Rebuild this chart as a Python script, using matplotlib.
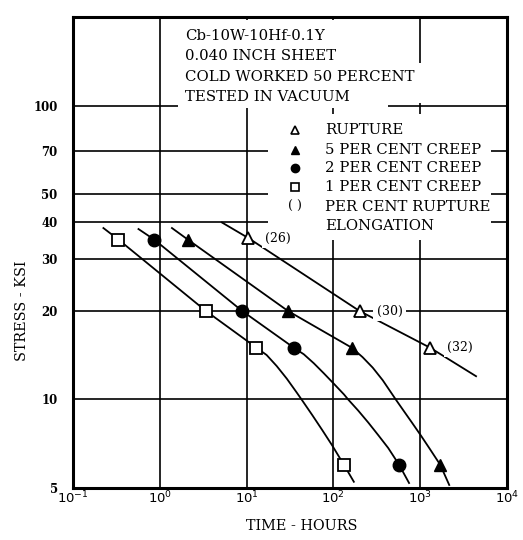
import numpy as np
import matplotlib
matplotlib.use("Agg")
import matplotlib.pyplot as plt
from matplotlib.patches import Rectangle

plt.rcParams['font.family'] = ['DejaVu Serif']

# rupture (open triangles) with per cent elongation labels
rup_t = [10.5, 200, 1300]
rup_s = [35.4, 20, 15]
rup_elong = ["(26)", "(30)", "(32)"]
rup_curve_t = [5.2, 10.5, 200, 1300, 4400]
rup_curve_s = [40, 35.4, 20, 15, 12]

# 5 per cent creep (filled triangles)
c5_t = [2.1, 30, 163, 1700]
c5_s = [35, 20, 15, 6]
c5_curve_t = [1.38, 2.1, 30, 163, 217, 284, 370, 523, 647, 800, 1016, 1291, 1700, 2160]
c5_curve_s = [38.3, 35, 20, 15, 13.93, 12.83, 11.63, 10, 9.14, 8.36, 7.55, 6.79, 6, 5.12]

# 2 per cent creep (filled circles)
c2_t = [0.86, 8.9, 35, 571]
c2_s = [35, 20, 15, 6]
c2_curve_t = [0.568, 0.86, 8.9, 35, 45.6, 59.5, 77.7, 101.3, 132.2, 148, 193, 252, 328, 428, 571, 744]
c2_curve_s = [38.0, 35, 20, 15, 14.25, 13.28, 12.27, 11.31, 10.41, 10, 9.17, 8.35, 7.57, 6.84, 6, 5.2]

# 1 per cent creep (open squares)
c1_t = [0.333, 3.4, 13.0, 132]
c1_s = [35, 20, 15, 6]
c1_curve_t = [0.224, 0.333, 3.4, 13.0, 17.0, 22.2, 29.0, 37.8, 43.7, 57.1, 74.4, 97.1, 132, 172]
c1_curve_s = [38.3, 35, 20, 15, 14.17, 13.0, 11.78, 10.56, 9.93, 8.85, 7.87, 6.97, 6, 5.25]

yticks = [5, 10, 20, 30, 40, 50, 70, 100]
xticks = [1e-1, 1e0, 1e1, 1e2, 1e3, 1e4]
xticklabels = [r"$10^{-1}$", r"$10^{0}$", r"$10^{1}$", r"$10^{2}$", r"$10^{3}$", r"$10^{4}$"]

title_lines = ["Cb-10W-10Hf-0.1Y", "0.040 INCH SHEET",
               "COLD WORKED 50 PERCENT", "TESTED IN VACUUM"]
legend_lines = ["RUPTURE", "5 PER CENT CREEP", "2 PER CENT CREEP",
                "1 PER CENT CREEP", "PER CENT RUPTURE", "ELONGATION"]

W, H = 523, 540
fig = plt.figure(figsize=(W/100, H/100), dpi=100)
ax = fig.add_axes([73/W, 1-488/H, 434/W, 471/H])
ax.set_xscale("log")
ax.set_yscale("log")
ax.set_xlim(0.1, 1e4)
ax.set_ylim(5, 200)

ax.set_xticks(xticks)
ax.set_xticklabels(xticklabels)
ax.set_yticks(yticks)
ax.set_yticklabels([str(v) for v in yticks])
ax.minorticks_off()
ax.tick_params(axis="both", length=0)
ax.tick_params(axis="y", pad=11, labelsize=8.5)
ax.tick_params(axis="x", pad=1, labelsize=9.5)
for lab in ax.get_yticklabels():
    lab.set_fontweight("bold")

ax.set_axisbelow(True)
ax.grid(True, color="black", linewidth=1.2)
for sp in ax.spines.values():
    sp.set_linewidth(2.2)


def px_box(x0, y0, x1, y1):
    # white patch given in pixel bounds of the axes area
    ax.add_patch(Rectangle(((x0-73)/434, (488-y1)/471), (x1-x0)/434, (y1-y0)/471,
                           transform=ax.transAxes, facecolor="white",
                           edgecolor="none", zorder=1))


px_box(178, 20, 388, 108)
px_box(388, 63, 425, 103)
px_box(268, 114, 491, 240)

lw = 1.3
ax.plot(rup_curve_t, rup_curve_s, color="black", lw=lw, zorder=2)
ax.plot(c5_curve_t, c5_curve_s, color="black", lw=lw, zorder=2)
ax.plot(c2_curve_t, c2_curve_s, color="black", lw=lw, zorder=2)
ax.plot(c1_curve_t, c1_curve_s, color="black", lw=lw, zorder=2)

ax.plot(rup_t, rup_s, ls="none", marker="^", ms=9, mfc="white", mec="black", mew=1.3, zorder=3)
ax.plot(c5_t, c5_s, ls="none", marker="^", ms=9, mfc="black", mec="black", zorder=3)
ax.plot(c2_t, c2_s, ls="none", marker="o", ms=9, mfc="black", mec="black", zorder=3)
ax.plot(c1_t, c1_s, ls="none", marker="s", ms=9, mfc="white", mec="black", mew=1.3, zorder=3)

for t, s, lab in zip(rup_t, rup_s, rup_elong):
    ax.annotate(lab, (t, s), xytext=(17, 0), textcoords="offset pixels",
                ha="left", va="center", fontsize=9,
                bbox=dict(boxstyle="square,pad=0.25", fc="white", ec="none"), zorder=4)

# title block
for i, line in enumerate(title_lines):
    ax.text((185-73)/434, (488-36-20.3*i)/471, line, transform=ax.transAxes,
            ha="left", va="center", fontsize=10.7, zorder=4)

# key
key_y = [(488-py)/471 for py in [130, 150, 168.3, 186.7, 206.7, 226]]
mx = (295-73)/434
tx = (325-73)/434
ax.plot([mx], [key_y[0]], transform=ax.transAxes, marker="^", ms=6, mfc="white", mec="black", mew=1.2, zorder=4)
ax.plot([mx], [key_y[1]], transform=ax.transAxes, marker="^", ms=6, mfc="black", mec="black", zorder=4)
ax.plot([mx], [key_y[2]], transform=ax.transAxes, marker="o", ms=6, mfc="black", mec="black", zorder=4)
ax.plot([mx], [key_y[3]], transform=ax.transAxes, marker="s", ms=5.5, mfc="white", mec="black", mew=1.2, zorder=4)
ax.text(mx, key_y[4], "( )", transform=ax.transAxes, ha="center", va="center", fontsize=9, zorder=4)
for y, line in zip(key_y, legend_lines):
    ax.text(tx, y, line, transform=ax.transAxes, ha="left", va="center", fontsize=10.7, zorder=4)

fig.text(22/W, 1-311/H, "STRESS - KSI", rotation=90, ha="center", va="center", fontsize=10.4)
fig.text(302/W, 1-526/H, "TIME - HOURS", ha="center", va="center", fontsize=10.4)

fig.savefig("out.png", dpi=100)
